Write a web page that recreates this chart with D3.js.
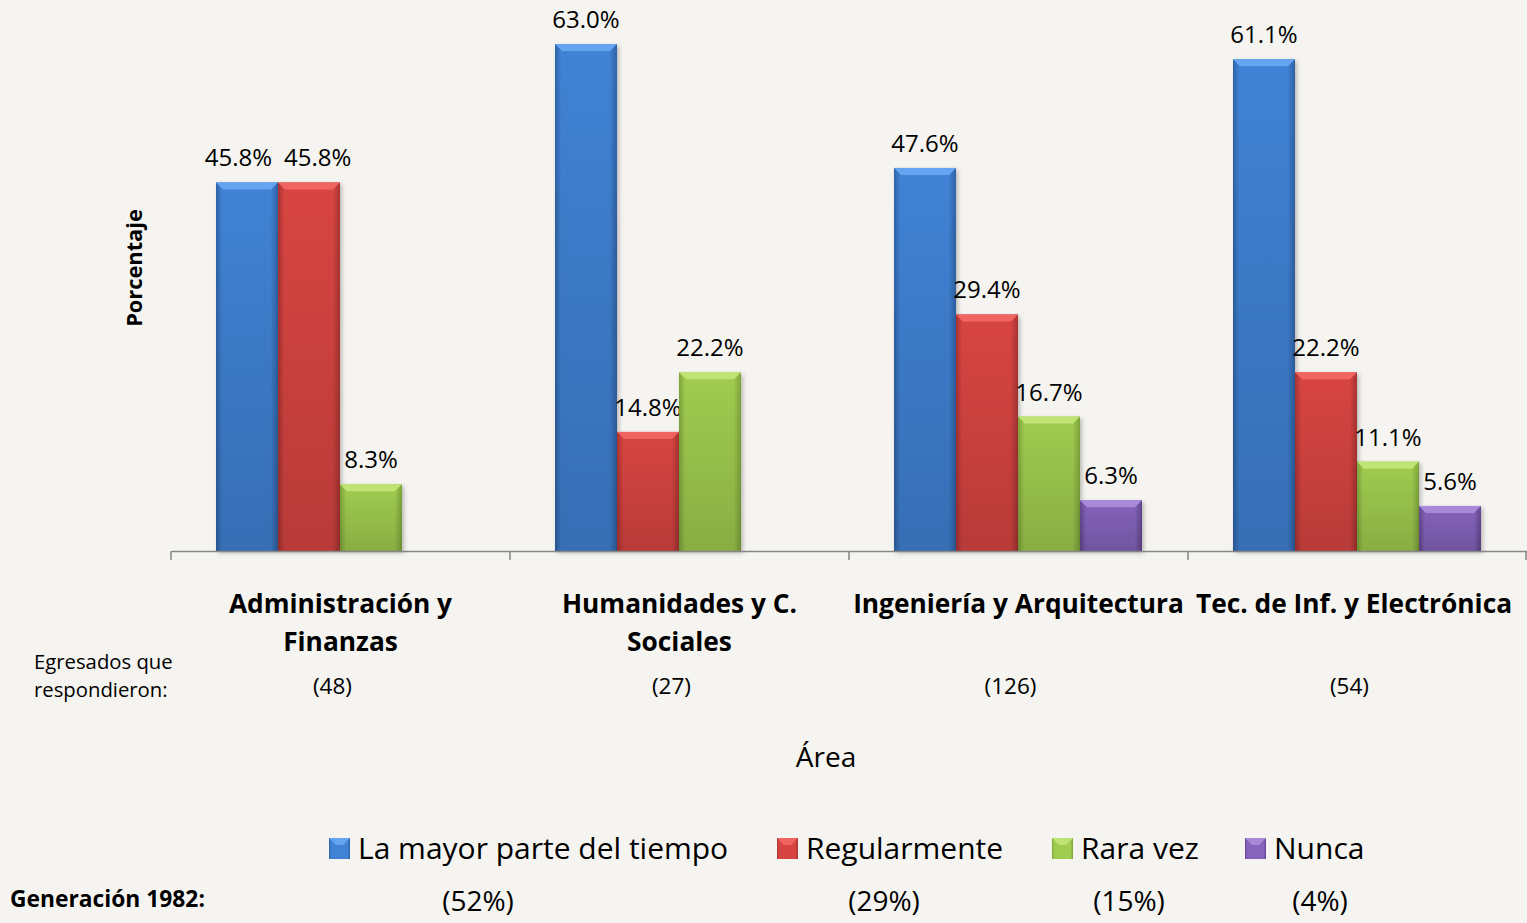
<!DOCTYPE html>
<html>
<head>
<meta charset="utf-8">
<script src="https://cdn.jsdelivr.net/npm/d3@7"></script>
<style>
  body { margin: 0; background: #f5f4f0; }
  svg { display: block; font-family: "Open Sans", Lato, sans-serif; }
</style>
</head>
<body>
<svg></svg>
<script>
// Areas and survey series
const areas = [["Administración y", "Finanzas"], ["Humanidades y C.", "Sociales"], ["Ingeniería y Arquitectura"], ["Tec. de Inf. y Electrónica"]];
const respondents = [48, 27, 126, 54];
const series = ["La mayor parte del tiempo", "Regularmente", "Rara vez", "Nunca"];
const mayorParte = [45.8, 63.0, 47.6, 61.1];
const regularmente = [45.8, 14.8, 29.4, 22.2];
const raraVez = [8.3, 22.2, 16.7, 11.1];
const nunca = [null, null, 6.3, 5.6];
const generacion1982 = [52, 29, 15, 4];

const values = [mayorParte, regularmente, raraVez, nunca];
const colors = [["#64a4f0", "#4082d4", "#2f62a6"], ["#f06462", "#d84442", "#a83432"], ["#c0e474", "#a0cc50", "#7ea43a"], ["#a88ad8", "#8564bc", "#644690"]];

const width = 1527, height = 923;
const svg = d3.select("svg").attr("width", width).attr("height", height);

const x0 = d3.scaleBand().domain(d3.range(areas.length)).range([171, 1527]).padding(0);
const x1 = d3.scaleBand().domain(d3.range(series.length)).range([45, x0.bandwidth() - 46]).padding(0);
const y = d3.scaleLinear().domain([0, 63]).range([551, 44]);

const defs = svg.append("defs");
colors.forEach((c, i) => {
  const g = defs.append("linearGradient").attr("id", "grad" + i).attr("x1", 0).attr("x2", 1).attr("y1", 0).attr("y2", 0);
  g.append("stop").attr("offset", "0%").attr("stop-color", c[2]);
  g.append("stop").attr("offset", "10%").attr("stop-color", c[1]);
  g.append("stop").attr("offset", "88%").attr("stop-color", c[1]);
  g.append("stop").attr("offset", "100%").attr("stop-color", c[2]);
});
const shade = defs.append("linearGradient").attr("id", "shade").attr("x1", 0).attr("x2", 0).attr("y1", 0).attr("y2", 1);
shade.append("stop").attr("offset", "0%").attr("stop-color", "#000").attr("stop-opacity", 0);
shade.append("stop").attr("offset", "100%").attr("stop-color", "#000").attr("stop-opacity", 0.15);
const shadow = defs.append("filter").attr("id", "shadow").attr("x", "-20%").attr("y", "-20%").attr("width", "140%").attr("height", "140%");
shadow.append("feDropShadow").attr("dx", 2).attr("dy", 2).attr("stdDeviation", 2).attr("flood-opacity", 0.25);

// bars
const groups = svg.append("g").selectAll("g")
  .data(areas)
  .join("g")
  .attr("transform", (d, i) => `translate(${x0(i)},0)`);

const bars = groups.selectAll("g.bar")
  .data((d, i) => series.map((s, j) => ({ j, v: values[j][i] })).filter(d => d.v != null))
  .join("g").attr("class", "bar");

bars.append("rect")
  .attr("x", d => x1(d.j))
  .attr("y", d => y(d.v))
  .attr("width", x1.bandwidth())
  .attr("height", d => y(0) - y(d.v))
  .attr("fill", d => `url(#grad${d.j})`)
  .attr("filter", "url(#shadow)");

bars.append("rect")
  .attr("x", d => x1(d.j))
  .attr("y", d => y(d.v))
  .attr("width", x1.bandwidth())
  .attr("height", d => y(0) - y(d.v))
  .attr("fill", "url(#shade)");

// top bevel
bars.append("path")
  .attr("d", d => {
    const xa = x1(d.j), w = x1.bandwidth(), t = y(d.v);
    return `M${xa},${t}L${xa + w},${t}L${xa + w - 7},${t + 7}L${xa + 7},${t + 7}Z`;
  })
  .attr("fill", d => colors[d.j][0]);

// value labels, nudged apart when neighbours sit at the same height
const labels = bars.append("text")
  .attr("x", d => x1(d.j) + x1.bandwidth() / 2)
  .attr("y", d => y(d.v) - 16)
  .attr("text-anchor", "middle")
  .attr("font-size", 24)
  .attr("fill", "#000")
  .text(d => d.v.toFixed(1) + "%");

groups.each(function() {
  const ts = d3.select(this).selectAll("text").nodes();
  for (let k = 1; k < ts.length; k++) {
    const a = ts[k - 1].getBBox(), b = ts[k].getBBox();
    const overlap = a.x + a.width + 12 - b.x;
    if (overlap > 0 && Math.abs(a.y - b.y) < a.height) {
      ts[k - 1].setAttribute("x", +ts[k - 1].getAttribute("x") - overlap / 2);
      ts[k].setAttribute("x", +ts[k].getAttribute("x") + overlap / 2);
    }
  }
});

// axis
const axis = svg.append("g").attr("transform", `translate(0,${y(0)})`)
  .call(d3.axisBottom(x0).tickFormat("").tickSize(0));
axis.select(".domain").attr("stroke", "#868686").attr("stroke-width", 1.5);
axis.selectAll(".tick").remove();
axis.selectAll("line.sep")
  .data(d3.range(areas.length + 1))
  .join("line").attr("class", "sep")
  .attr("x1", i => i < areas.length ? x0(i) : 1526)
  .attr("x2", i => i < areas.length ? x0(i) : 1526)
  .attr("y1", 0).attr("y2", 9)
  .attr("stroke", "#868686").attr("stroke-width", 1.5);

// category labels
const catLabels = svg.append("g").selectAll("text")
  .data(areas)
  .join("text")
  .attr("x", (d, i) => Math.min(x0(i) + x0.bandwidth() / 2, 1354))
  .attr("y", 613)
  .attr("text-anchor", "middle")
  .attr("font-size", 26.3)
  .attr("font-weight", "bold");
catLabels.selectAll("tspan")
  .data(d => d)
  .join("tspan")
  .attr("x", function() { return this.parentNode.getAttribute("x"); })
  .attr("dy", (d, i) => i ? 38 : 0)
  .text(d => d);

svg.append("g").selectAll("text")
  .data(respondents)
  .join("text")
  .attr("x", (d, i) => x0(i) + x0.bandwidth() / 2 - 8)
  .attr("y", 694)
  .attr("text-anchor", "middle")
  .attr("font-size", 22.5)
  .text(d => `(${d})`);

svg.append("text").attr("x", 34).attr("y", 669).attr("font-size", 20.3).text("Egresados que");
svg.append("text").attr("x", 34).attr("y", 697).attr("font-size", 20.3).text("respondieron:");

svg.append("text").attr("x", 826).attr("y", 767).attr("text-anchor", "middle").attr("font-size", 28).text("Área");

svg.append("text")
  .attr("transform", "translate(142,268) rotate(-90)")
  .attr("text-anchor", "middle")
  .attr("font-size", 21.8)
  .attr("font-weight", "bold")
  .text("Porcentaje");

// legend
const legendX = [329, 777, 1052, 1245];
const legend = svg.append("g").selectAll("g")
  .data(series)
  .join("g")
  .attr("transform", (d, i) => `translate(${legendX[i]},838)`);
legend.append("rect").attr("width", 21).attr("height", 21).attr("fill", (d, i) => `url(#grad${i})`);
legend.append("path").attr("d", "M0,0L21,0L14,7L7,7Z").attr("fill", (d, i) => colors[i][0]);
legend.append("text").attr("x", 29).attr("y", 21).attr("font-size", 30).text(d => d);

svg.append("text").attr("x", 10).attr("y", 907).attr("font-size", 22.8).attr("font-weight", "bold").text("Generación 1982:");
const genX = [478, 884, 1129, 1320];
svg.append("g").selectAll("text")
  .data(generacion1982)
  .join("text")
  .attr("x", (d, i) => genX[i])
  .attr("y", 911)
  .attr("text-anchor", "middle")
  .attr("font-size", 28)
  .text(d => `(${d}%)`);
</script>
</body>
</html>
